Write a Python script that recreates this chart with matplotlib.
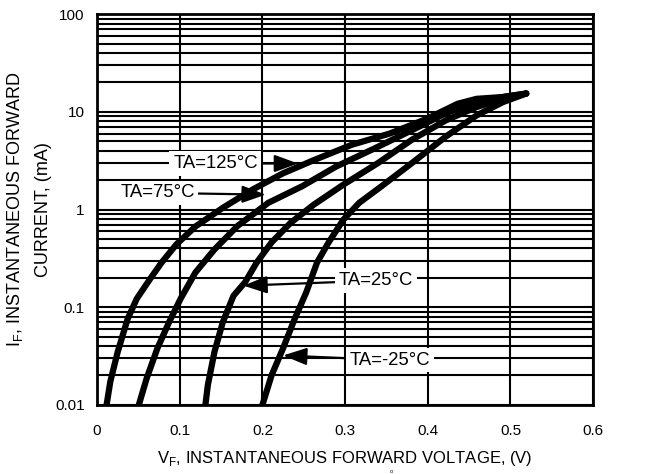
import numpy as np
import matplotlib.pyplot as plt

plt.rcParams['font.family'] = ['Liberation Sans', 'DejaVu Sans']

# 读图得到的曲线数据 (V, mA)
v_125 = [0.0115, 0.016, 0.025, 0.037, 0.048, 0.064, 0.078, 0.096, 0.119, 0.152, 0.188, 0.225,
         0.262, 0.308, 0.354, 0.399, 0.436, 0.459, 0.491, 0.519]
i_125 = [0.010, 0.0173, 0.035, 0.076, 0.122, 0.194, 0.286, 0.44, 0.67, 1.04, 1.60, 2.35,
         3.2, 4.6, 6.0, 8.5, 12.1, 13.6, 14.2, 15.4]

v_75 = [0.0505, 0.060, 0.073, 0.087, 0.101, 0.119, 0.142, 0.170, 0.207, 0.248, 0.289, 0.335,
        0.381, 0.422, 0.459, 0.491, 0.519]
i_75 = [0.010, 0.0187, 0.038, 0.070, 0.122, 0.227, 0.39, 0.68, 1.17, 1.73, 2.75, 4.2,
        6.5, 9.7, 12.6, 14.2, 15.4]

v_25 = [0.131, 0.134, 0.142, 0.152, 0.165, 0.179, 0.193, 0.211, 0.234, 0.262, 0.298, 0.340,
        0.381, 0.422, 0.459, 0.491, 0.519]
i_25 = [0.010, 0.016, 0.035, 0.070, 0.131, 0.18, 0.286, 0.46, 0.73, 1.12, 1.80, 3.0,
        5.2, 8.2, 11.2, 13.6, 15.4]

v_m25 = [0.200, 0.211, 0.225, 0.239, 0.253, 0.266, 0.280, 0.298, 0.317, 0.344, 0.381, 0.422,
         0.459, 0.491, 0.519]
i_m25 = [0.010, 0.020, 0.038, 0.076, 0.142, 0.286, 0.46, 0.79, 1.17, 1.73, 3.0, 5.6,
         9.2, 12.6, 15.4]

x_ticks = [0, 0.1, 0.2, 0.3, 0.4, 0.5, 0.6]
x_ticklabels = ['0', '0.1', '0.2', '0.3', '0.4', '0.5', '0.6']
y_ticks = [0.01, 0.1, 1, 10, 100]
y_ticklabels = ['0.01', '0.1', '1', '10', '100']

fig = plt.figure(figsize=(6.65, 4.74), dpi=100)
ax = fig.add_axes([0.146, 0.146, 0.746, 0.824])

ax.set_yscale('log')
ax.set_xlim(0, 0.6)
ax.set_ylim(0.01, 100)

# 网格
for x in x_ticks:
    ax.axvline(x, color='black', lw=1.5, zorder=1)
for dec in [0.01, 0.1, 1, 10]:
    for k in range(1, 10):
        ax.axhline(dec * k, color='black', lw=1.5, zorder=1)

for v, i in [(v_125, i_125), (v_75, i_75), (v_25, i_25), (v_m25, i_m25)]:
    ax.plot(v, i, color='black', lw=4.5, solid_capstyle='round',
            solid_joinstyle='round', zorder=3)

ax.set_xticks(x_ticks)
ax.set_xticklabels(x_ticklabels)
ax.set_yticks(y_ticks)
ax.set_yticklabels(y_ticklabels)
ax.minorticks_off()
ax.tick_params(length=0, labelsize=11)
ax.tick_params(axis='x', pad=14)
ax.tick_params(axis='y', pad=9)
for s in ax.spines.values():
    s.set_linewidth(2)

ax.set_xlabel('V$_\\mathregular{F}$, INSTANTANEOUS FORWARD VOLTAGE, (V)', fontsize=12, labelpad=8)
ax.set_ylabel('I$_\\mathregular{F}$, INSTANTANEOUS FORWARD\nCURRENT, (mA)', fontsize=13,
              labelpad=2, linespacing=1.75)
fig.text(0.588, 0.001, 'o', fontsize=4, ha='center', va='bottom')

# 标注
box = dict(boxstyle='square,pad=0.2', fc='white', ec='none')
arrow = dict(arrowstyle='-|>,head_length=0.6,head_width=0.22', color='black', lw=1.6,
             mutation_scale=24, shrinkA=0, shrinkB=0)
notes = [
    ('TA=125°C', (0.092, 2.96), (0.243, 2.96)),
    ('TA=75°C', (0.028, 1.48), (0.204, 1.42)),
    ('TA=25°C', (0.292, 0.187), (0.177, 0.166)),
    ('TA=-25°C', (0.305, 0.0287), (0.225, 0.032)),
]
for txt, pos, tip in notes:
    ax.annotate(txt, xy=tip, xytext=pos, fontsize=13.3, ha='left', va='center',
                bbox=box, arrowprops=arrow, zorder=4)

plt.savefig('out.png', dpi=100)
